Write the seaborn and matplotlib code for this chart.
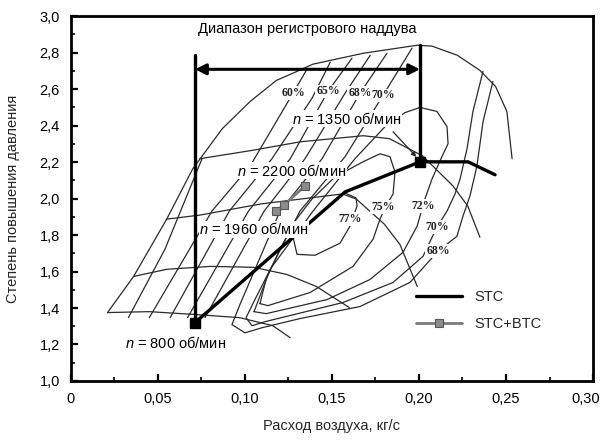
import matplotlib
matplotlib.use("Agg")
import matplotlib.pyplot as plt
import matplotlib.transforms as mtransforms
import numpy as np
import pandas as pd
import seaborn as sns
from matplotlib.ticker import MultipleLocator, FixedLocator, FixedFormatter

sns.set_theme(style="ticks")
SANS = ["Liberation Sans", "DejaVu Sans"]
plt.rcParams["font.family"] = SANS
plt.rcParams["mathtext.fontset"] = "custom"
plt.rcParams["mathtext.it"] = "Liberation Sans:italic"
plt.rcParams["mathtext.rm"] = "Liberation Sans"

# ---- compressor map: surge line and outer envelope ----
surge_x = [0.021, 0.036, 0.055, 0.070, 0.087, 0.103, 0.118, 0.130, 0.139, 0.168,
           0.199, 0.2075, 0.222, 0.235, 0.244, 0.2505, 0.2535]
surge_y = [1.375, 1.573, 1.887, 2.163, 2.383, 2.532, 2.647, 2.697, 2.736, 2.796,
           2.840, 2.835, 2.785, 2.702, 2.614, 2.477, 2.218]

# ---- speed lines ----
speed1_x = [0.021, 0.045, 0.072, 0.097, 0.116, 0.126]
speed1_y = [1.375, 1.380, 1.364, 1.347, 1.303, 1.237]
speed2_x = [0.036, 0.055, 0.080, 0.105, 0.124, 0.141, 0.160]
speed2_y = [1.573, 1.612, 1.628, 1.623, 1.584, 1.518, 1.402]
speed3_x = [0.055, 0.074, 0.109, 0.132, 0.156, 0.164, 0.180, 0.189, 0.199]
speed3_y = [1.887, 1.909, 1.970, 1.997, 2.025, 1.997, 1.860, 1.749, 1.518]
speed4_x = [0.074, 0.103, 0.132, 0.168, 0.183, 0.202, 0.2195, 0.228, 0.235]
speed4_y = [2.218, 2.262, 2.311, 2.344, 2.328, 2.234, 2.069, 1.959, 1.788]

# ---- efficiency contours (open branches) ----
eff_a_x = [0.033, 0.054, 0.0753]
eff_a_y = [1.347, 1.722, 2.218]
eff60_x = [0.045, 0.081, 0.103, 0.1276, 0.1356]
eff60_y = [1.347, 1.931, 2.179, 2.577, 2.708]
eff_b_x = [0.057, 0.091, 0.1155, 0.1385, 0.149]
eff_b_y = [1.347, 1.931, 2.218, 2.549, 2.747]
eff65_x = [0.067, 0.102, 0.126, 0.1477, 0.1615]
eff65_y = [1.347, 1.931, 2.218, 2.587, 2.769]
eff_c_x = [0.077, 0.111, 0.1345, 0.1575, 0.172]
eff_c_y = [1.347, 1.931, 2.218, 2.577, 2.785]
eff68_x = [0.1816, 0.1661, 0.1443, 0.1201, 0.0971, 0.0925, 0.1000, 0.1098, 0.1316,
           0.1661, 0.1948, 0.2109, 0.2218, 0.2253, 0.2293, 0.2333, 0.2368, 0.2425]
eff68_y = [2.796, 2.577, 2.218, 1.931, 1.419, 1.309, 1.264, 1.292, 1.342,
           1.408, 1.540, 1.711, 1.793, 1.904, 2.014, 2.179, 2.421, 2.642]
eff70_x = [0.1960, 0.1793, 0.1575, 0.1316, 0.1057, 0.1006, 0.1040, 0.1115, 0.1563,
           0.1851, 0.2023, 0.2103, 0.2161, 0.2207, 0.2236, 0.2276, 0.2310, 0.2368]
eff70_y = [2.824, 2.565, 2.229, 1.931, 1.446, 1.347, 1.303, 1.325, 1.430,
           1.540, 1.683, 1.843, 1.931, 2.025, 2.107, 2.273, 2.477, 2.697]
eff72_x = [0.1052, 0.1144, 0.1391, 0.1632, 0.1805, 0.1920, 0.2006, 0.2103, 0.2161,
           0.2167, 0.2121, 0.2075, 0.2034, 0.1989, 0.1908, 0.1718, 0.1471, 0.1121, 0.1052]
eff72_y = [1.380, 1.612, 1.931, 2.218, 2.394, 2.471, 2.499, 2.477, 2.394,
           2.300, 2.207, 2.107, 1.997, 1.848, 1.705, 1.556, 1.446, 1.369, 1.380]
eff75_x = [0.1086, 0.1121, 0.1201, 0.1287, 0.1385, 0.1517, 0.1678, 0.1776, 0.1833,
           0.1862, 0.1851, 0.1810, 0.1776, 0.1736, 0.1621, 0.1374, 0.1132, 0.1086]
eff75_y = [1.424, 1.556, 1.722, 1.876, 1.997, 2.118, 2.201, 2.245, 2.229,
           2.146, 2.025, 1.959, 1.887, 1.777, 1.628, 1.485, 1.413, 1.424]
eff77_x = [0.1276, 0.1299, 0.1402, 0.1546, 0.1603, 0.1644, 0.1638, 0.1575]
eff77_y = [1.788, 1.694, 1.689, 1.755, 1.848, 1.959, 2.003, 2.030]

# ---- operating lines ----
stc_x = [0.0713, 0.1575, 0.2006, 0.2282, 0.2437]
stc_y = [1.320, 2.036, 2.201, 2.201, 2.130]
btc_x = [0.1178, 0.1224, 0.1345]
btc_y = [1.931, 1.964, 2.069]

# ---- register boost range bracket ----
range_lo = 0.0713
range_hi = 0.2006
range_level = 2.708
range_left_top = 2.785
range_right_top = 2.840

# ---- labels ----
eff_labels = ["60%", "65%", "68%", "70%", "72%", "75%", "77%", "70%", "68%"]
eff_label_x = [0.1276, 0.1477, 0.1661, 0.1793, 0.2023, 0.1793, 0.1603, 0.2103, 0.2109]
eff_label_y = [2.577, 2.587, 2.577, 2.565, 1.959, 1.953, 1.887, 1.843, 1.711]
speed_labels = ["$n$ = 1350 об/мин", "$n$ = 2200 об/мин", "$n$ = 1960 об/мин", "$n$ = 800 об/мин"]
speed_label_x = [0.1586, 0.127, 0.1052, 0.0603]
speed_label_y = [2.438, 2.152, 1.832, 1.209]

x_ticks = [0, 0.05, 0.10, 0.15, 0.20, 0.25, 0.30]
x_tick_labels = ["0", "0,05", "0,10", "0,15", "0,20", "0,25", "0,30"]
y_ticks = [1.0, 1.2, 1.4, 1.6, 1.8, 2.0, 2.2, 2.4, 2.6, 2.8, 3.0]
y_tick_labels = ["1,0", "1,2", "1,4", "1,6", "1,8", "2,0", "2,2", "2,4", "2,6", "2,8", "3,0"]

curves = {
    "surge": (surge_x, surge_y),
    "n1": (speed1_x, speed1_y), "n2": (speed2_x, speed2_y),
    "n3": (speed3_x, speed3_y), "n4": (speed4_x, speed4_y),
    "ea": (eff_a_x, eff_a_y), "e60": (eff60_x, eff60_y), "eb": (eff_b_x, eff_b_y),
    "e65": (eff65_x, eff65_y), "ec": (eff_c_x, eff_c_y), "e68": (eff68_x, eff68_y),
    "e70": (eff70_x, eff70_y), "e72": (eff72_x, eff72_y), "e75": (eff75_x, eff75_y),
    "e77": (eff77_x, eff77_y),
}
rows = []
for name, (xs, ys) in curves.items():
    for i, (xv, yv) in enumerate(zip(xs, ys)):
        rows.append({"curve": name, "order": i, "x": xv, "y": yv})
map_df = pd.DataFrame(rows)

fig = plt.figure(figsize=(6.01, 4.40), dpi=100)
ax = fig.add_axes([0.1181, 0.1341, 0.8686, 0.8295])

sns.lineplot(data=map_df, x="x", y="y", units="curve", estimator=None, sort=False,
             color="#2a2a2a", lw=0.9, legend=False, ax=ax, zorder=2)

# operating lines
sns.lineplot(x=stc_x, y=stc_y, sort=False, color="black", lw=2.4, label="STC",
             ax=ax, zorder=4)
sns.lineplot(x=btc_x, y=btc_y, sort=False, color="#7a7a7a", lw=2.0, marker="s",
             markersize=6, markerfacecolor="#8c8c8c", markeredgecolor="#555555",
             markeredgewidth=0.8, label="STC+BTC", ax=ax, zorder=4)
ax.plot([stc_x[0], stc_x[2]], [stc_y[0], stc_y[2]], ls="none", marker="s",
        markersize=6.5, color="black", zorder=5)

# register boost range bracket
ax.plot([range_lo, range_lo], [stc_y[0], range_left_top], color="black", lw=2.4, zorder=4)
ax.plot([range_hi, range_hi], [stc_y[2], range_right_top], color="black", lw=2.4, zorder=4)
ax.annotate("", xy=(range_lo, range_level), xytext=(range_hi, range_level),
            arrowprops=dict(arrowstyle="<|-|>", lw=2.2, color="black",
                            mutation_scale=16, shrinkA=0, shrinkB=0), zorder=4)
ax.text((range_lo + range_hi) / 2, 2.928, "Диапазон регистрового наддува",
        ha="center", va="center", fontsize=10.5, color="black")

# leader from the 1350 rpm label to its operating point
ax.annotate("", xy=(0.1985, 2.228), xytext=(0.1851, 2.366),
            arrowprops=dict(arrowstyle="-|>", lw=0.9, color="#2a2a2a",
                            mutation_scale=7, shrinkA=0, shrinkB=0), zorder=3)

white = dict(facecolor="white", edgecolor="none", pad=0.6)
for t, xv, yv in zip(eff_labels, eff_label_x, eff_label_y):
    ax.text(xv, yv, t, ha="center", va="center", fontsize=8.5, fontweight="bold",
            family=["Liberation Serif", "DejaVu Serif"], color="#222222",
            bbox=white, zorder=3)
for t, xv, yv in zip(speed_labels, speed_label_x, speed_label_y):
    ax.text(xv, yv, t, ha="center", va="center", fontsize=10.5, color="black",
            bbox=dict(facecolor="white", edgecolor="none", pad=0.3), zorder=4.5)

ax.set_xlim(0, 0.30)
ax.set_ylim(1.0, 3.0)
ax.xaxis.set_major_locator(FixedLocator(x_ticks))
ax.xaxis.set_major_formatter(FixedFormatter(x_tick_labels))
ax.xaxis.set_minor_locator(MultipleLocator(0.025))
ax.yaxis.set_major_locator(FixedLocator(y_ticks))
ax.yaxis.set_major_formatter(FixedFormatter(y_tick_labels))
ax.yaxis.set_minor_locator(MultipleLocator(0.1))
ax.tick_params(which="major", direction="in", length=5, width=1.6, labelsize=10.5,
               pad=8, colors="black")
ax.tick_params(which="minor", direction="in", length=3, width=1.4)
for s in ax.spines.values():
    s.set_visible(True)
    s.set_linewidth(2.0)
    s.set_color("black")

# keep the last x tick label inside the figure
last_label = ax.get_xticklabels()[-1]
last_label.set_transform(last_label.get_transform() +
                         mtransforms.ScaledTranslation(-0.07, 0, fig.dpi_scale_trans))

ax.set_xlabel("Расход воздуха, кг/с", fontsize=10.5)
ax.set_ylabel("Степень повышения давления", fontsize=10.5)
ax.xaxis.set_label_coords(0.5, -0.105)
ax.yaxis.set_label_coords(-0.098, 0.5)

ax.legend(loc="upper left", bbox_to_anchor=(0.66, 0.25), frameon=False,
          handlelength=3.2, handletextpad=0.8, labelspacing=0.9, fontsize=10.5,
          borderaxespad=0, borderpad=0)

fig.savefig("out.png", dpi=100, facecolor="white")
